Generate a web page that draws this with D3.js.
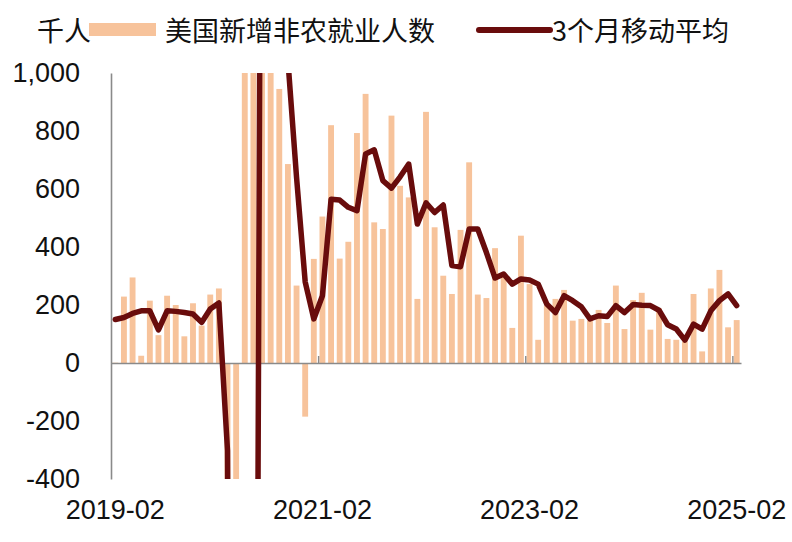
<!DOCTYPE html>
<html>
<head>
<meta charset="utf-8">
<script src="https://cdn.jsdelivr.net/npm/d3@7"></script>
<style>
  html, body { margin: 0; padding: 0; background: #fff; }
  svg { display: block; }
  .num { font-family: "Liberation Sans", Arial, sans-serif; font-size: 27px; fill: #111; }
  .cjk { font-family: "Noto Sans CJK SC", sans-serif; font-size: 27px; fill: #111; }
</style>
</head>
<body>
<svg width="792" height="542"></svg>
<script>
  // months 2019-02 .. 2025-02
  var months = [
    "2019-02","2019-03","2019-04","2019-05","2019-06","2019-07","2019-08","2019-09","2019-10","2019-11","2019-12",
    "2020-01","2020-02","2020-03","2020-04","2020-05","2020-06","2020-07","2020-08","2020-09","2020-10","2020-11","2020-12",
    "2021-01","2021-02","2021-03","2021-04","2021-05","2021-06","2021-07","2021-08","2021-09","2021-10","2021-11","2021-12",
    "2022-01","2022-02","2022-03","2022-04","2022-05","2022-06","2022-07","2022-08","2022-09","2022-10","2022-11","2022-12",
    "2023-01","2023-02","2023-03","2023-04","2023-05","2023-06","2023-07","2023-08","2023-09","2023-10","2023-11","2023-12",
    "2024-01","2024-02","2024-03","2024-04","2024-05","2024-06","2024-07","2024-08","2024-09","2024-10","2024-11","2024-12",
    "2025-01","2025-02"
  ];

  // 美国新增非农就业人数 (千人); 2020 extremes run off the chart
  var payrolls = [
    1, 229, 295, 25, 215, 96, 232, 200, 92, 206, 129,
    236, 257, -1390, -20500, 2800, 4600, 1700, 1500, 945, 686, 267, -185,
    359, 505, 820, 360, 418, 793, 928, 485, 462, 853, 611, 571,
    221, 866, 468, 301, 238, 459, 692, 236, 224, 396, 301, 121,
    439, 272, 80, 198, 221, 252, 146, 152, 146, 183, 138, 267,
    117, 217, 242, 115, 188, 83, 80, 74, 238, 40, 257, 321,
    123, 148
  ];

  // 3个月移动平均 (千人)
  var avg3m = [
    150, 157, 171, 180, 180, 114, 180, 178, 174, 169, 140,
    186, 207, -302, -7200, -6360, -4370, 3030, 2600, 1380, 1044, 640, 280,
    152, 232, 565, 562, 537, 525, 721, 735, 629, 603, 642, 686,
    479, 552, 519, 545, 336, 332, 462, 462, 381, 293, 307, 272,
    290, 286, 272, 203, 174, 232, 215, 194, 152, 163, 160, 198,
    174, 202, 199, 198, 182, 132, 117, 79, 134, 117, 180, 215,
    238, 198
  ];

  var yTicks = [-400, -200, 0, 200, 400, 600, 800, 1000];
  var xLabels = ["2019-02", "2021-02", "2023-02", "2025-02"];
  var xTickIdx = [24, 48, 72];

  (function () {
    'use strict';

    var barColor = "#F7C39B",
        lineColor = "#690C0C",
        axisColor = "#8a8a8a";

    var svg = d3.select("svg");
    var plotL = 111, plotR = 741, plotT = 73, plotB = 479;

    var x = d3.scaleBand()
        .domain(months)
        .range([plotL, plotR])
        .paddingInner(0.32)
        .paddingOuter(0.16);

    var xIdx = d3.scaleLinear().domain([0, months.length]).range([plotL, plotR]);

    var y = d3.scaleLinear().domain([-400, 1000]).range([plotB, plotT]);

    var locale = d3.formatLocale({ decimal: ".", thousands: ",", grouping: [3], currency: ["", ""], minus: "-" });
    var fmt = locale.format(",");

    svg.append("clipPath").attr("id", "plot-clip")
      .append("rect")
        .attr("x", plotL - 10).attr("y", plotT)
        .attr("width", plotR - plotL + 20).attr("height", plotB - plotT);

    // bars
    svg.append("g")
        .attr("clip-path", "url(#plot-clip)")
      .selectAll("rect")
      .data(payrolls)
      .enter().append("rect")
        .attr("x", function(d, i) { return x(months[i]); })
        .attr("width", x.bandwidth())
        .attr("y", function(d) { return y(Math.max(d, 0)); })
        .attr("height", function(d) { return Math.abs(y(d) - y(0)); })
        .attr("fill", barColor);

    // y axis
    var yAxis = svg.append("g")
        .attr("transform", "translate(" + plotL + ",0)")
        .call(d3.axisLeft(y).tickValues(yTicks).tickFormat(fmt).tickSize(0).tickSizeOuter(0).tickPadding(31));
    yAxis.select(".domain").attr("stroke", axisColor).attr("stroke-width", 1.6);
    yAxis.selectAll("text").attr("class", "num").attr("font-family", null).attr("font-size", null);

    // zero line with boundary ticks
    var zAxis = svg.append("g")
        .attr("transform", "translate(0," + y(0) + ")")
        .call(d3.axisTop(xIdx).tickValues(xTickIdx).tickFormat("").tickSize(7).tickSizeOuter(0));
    zAxis.select(".domain").attr("stroke", axisColor).attr("stroke-width", 1.6);
    zAxis.selectAll(".tick line").attr("stroke", axisColor).attr("stroke-width", 1.4);

    // x labels
    var xAxis = svg.append("g")
        .attr("transform", "translate(0,490)")
        .call(d3.axisBottom(x).tickValues(xLabels).tickSize(0).tickPadding(10));
    xAxis.select(".domain").remove();
    xAxis.selectAll("text").attr("class", "num").attr("font-family", null).attr("font-size", null);

    // 3-month average
    var line = d3.line()
        .x(function(d, i) { return x(months[i]) + x.bandwidth() / 2; })
        .y(function(d) { return y(d); });

    svg.append("path")
        .datum(avg3m)
        .attr("clip-path", "url(#plot-clip)")
        .attr("d", line)
        .attr("fill", "none")
        .attr("stroke", lineColor)
        .attr("stroke-width", 5.5)
        .attr("stroke-linejoin", "round")
        .attr("stroke-linecap", "round");

    // legend
    svg.append("text").attr("class", "cjk").attr("x", 37).attr("y", 41).text("千人");
    svg.append("rect").attr("x", 89).attr("y", 23).attr("width", 67).attr("height", 13).attr("fill", barColor);
    svg.append("text").attr("class", "cjk").attr("x", 165).attr("y", 41).text("美国新增非农就业人数");
    svg.append("line").attr("x1", 479).attr("x2", 550).attr("y1", 30).attr("y2", 30)
        .attr("stroke", lineColor).attr("stroke-width", 6).attr("stroke-linecap", "round");
    svg.append("text").attr("class", "cjk").attr("x", 552).attr("y", 41).text("3个月移动平均");
  }());
</script>
</body>
</html>
